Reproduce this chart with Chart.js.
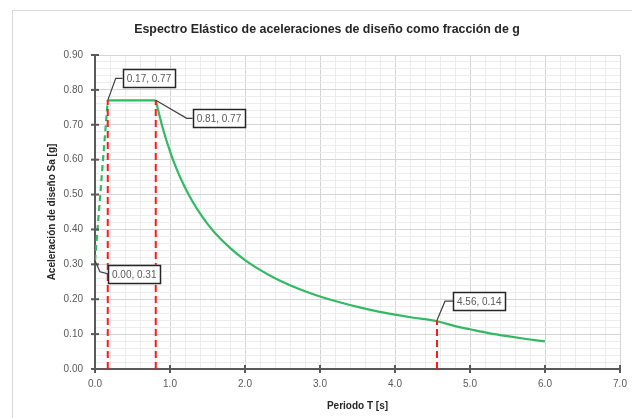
<!DOCTYPE html>
<html>
<head>
<meta charset="utf-8">
<script src="https://cdn.jsdelivr.net/npm/chart.js@4.4.0/dist/chart.umd.min.js"></script>
<style>
  html, body { margin: 0; padding: 0; background: #fff; }
  #wrap { width: 632px; height: 418px; position: relative; }
</style>
</head>
<body>
<div id="wrap"><canvas id="spectrum"></canvas></div>
<script>
// spectrum data
const rampT = [0.00, 0.17];
const rampSa = [0.31, 0.77];
const plateauT = [0.17, 0.81];
const plateauSa = [0.77, 0.77];
const decayT = [0.81, 0.9, 1.0, 1.1, 1.2, 1.3, 1.4, 1.5, 1.6, 1.8, 2.0, 2.2, 2.4, 2.6, 2.8, 3.0,
                3.25, 3.5, 3.75, 4.0, 4.25, 4.56, 4.8, 5.0, 5.25, 5.5, 5.75, 6.0];
const decaySa = [0.77, 0.693, 0.624, 0.567, 0.520, 0.480, 0.446, 0.416, 0.390, 0.347, 0.312, 0.284,
                 0.260, 0.240, 0.223, 0.208, 0.192, 0.178, 0.166, 0.156, 0.147, 0.137, 0.123, 0.114,
                 0.103, 0.094, 0.086, 0.079];
const calloutT = [0.00, 0.17, 0.81, 4.56];
const calloutSa = [0.31, 0.77, 0.77, 0.14];
const calloutText = ['0.00, 0.31', '0.17, 0.77', '0.81, 0.77', '4.56, 0.14'];
const xTickLabels = ['0.0', '1.0', '2.0', '3.0', '4.0', '5.0', '6.0', '7.0'];
const yTickLabels = ['0.00', '0.10', '0.20', '0.30', '0.40', '0.50', '0.60', '0.70', '0.80', '0.90'];

const AXIS = '#595959';
const FONT = "'Liberation Sans', Arial, sans-serif";

function pts(xs, ys) {
    return xs.map((x, i) => ({ x: x, y: ys[i] }));
}

function isMajorX(v) { return Math.abs(v - Math.round(v)) < 1e-6; }
function isMajorY(v) { return Math.abs(v * 10 - Math.round(v * 10)) < 1e-6; }

// red dashed verticals for the last three callouts
const guideSets = [1, 2, 3].map(i => ({
    data: [{ x: calloutT[i], y: 0 }, { x: calloutT[i], y: calloutSa[i] }],
    borderColor: '#ff1a1a',
    borderWidth: 2,
    borderDash: [7, 4],
    pointRadius: 0,
    showLine: true
}));

// leader elbow / box offsets in px from the point
const calloutLayout = [
    { ex: 5, ey: 11, bx: 13, by: 13 },
    { ex: 8, ey: -22, bx: 15, by: -22 },
    { ex: 31, ey: 18, bx: 37, by: 18 },
    { ex: 8, ey: -19, bx: 16, by: -19 }
];

const decorPlugin = {
    id: 'decor',
    beforeDraw(chart) {
        const c = chart.ctx;
        c.save();
        c.fillStyle = '#fff';
        c.fillRect(0, 0, chart.width, chart.height);
        c.strokeStyle = '#d9d9d9';
        c.lineWidth = 1;
        c.strokeRect(12.5, 10.5, chart.width + 20, chart.height + 20);
        c.restore();
    },
    afterDraw(chart) {
        const c = chart.ctx;
        const xs = chart.scales.x, ys = chart.scales.y;
        const area = chart.chartArea;
        c.save();

        // major tick marks crossing the axes
        c.strokeStyle = AXIS;
        c.lineWidth = 2;
        xTickLabels.forEach((_, i) => {
            const px = xs.getPixelForValue(i);
            c.beginPath(); c.moveTo(px, area.bottom - 4); c.lineTo(px, area.bottom + 4); c.stroke();
        });
        yTickLabels.forEach((_, i) => {
            const py = ys.getPixelForValue(i / 10);
            c.beginPath(); c.moveTo(area.left - 4, py); c.lineTo(area.left + 4, py); c.stroke();
        });

        // titles
        c.fillStyle = '#262626';
        c.textAlign = 'center';
        c.textBaseline = 'middle';
        c.font = 'bold 12.4px ' + FONT;
        c.fillText('Espectro Elástico de aceleraciones de diseño como fracción de g', 327, 30);
        c.font = 'bold 10px ' + FONT;
        c.fillText('Periodo T [s]', (area.left + area.right) / 2, 406);
        c.translate(52, (area.top + area.bottom) / 2);
        c.rotate(-Math.PI / 2);
        c.fillText('Aceleración de diseño Sa [g]', 0, 0);
        c.setTransform(1, 0, 0, 1, 0, 0);

        // callouts
        c.font = '10px ' + FONT;
        c.textAlign = 'left';
        calloutT.forEach((t, i) => {
            const px = xs.getPixelForValue(t);
            const py = ys.getPixelForValue(calloutSa[i]);
            const L = calloutLayout[i];
            const w = c.measureText(calloutText[i]).width + 8;
            const h = 18;
            const bx = px + L.bx, by = py + L.by;
            c.strokeStyle = '#404040';
            c.lineWidth = 1.2;
            c.beginPath();
            c.moveTo(px, py);
            c.lineTo(px + L.ex, py + L.ey);
            c.lineTo(bx, by);
            c.stroke();
            c.fillStyle = '#fff';
            c.fillRect(bx, by - h / 2, w, h);
            c.lineWidth = 1.5;
            c.strokeStyle = '#262626';
            c.strokeRect(Math.round(bx) + 0.5, Math.round(by - h / 2) + 0.5, Math.round(w), h);
            c.fillStyle = '#595959';
            c.fillText(calloutText[i], bx + 4, by + 1);
        });
        c.restore();
    }
};

new Chart(document.getElementById('spectrum'), {
    type: 'scatter',
    data: {
        datasets: [
            ...guideSets,
            {
                data: pts(rampT, rampSa),
                borderColor: '#33b864',
                borderWidth: 2.2,
                borderDash: [6, 4],
                pointRadius: 0,
                showLine: true
            },
            {
                data: pts(plateauT, plateauSa),
                borderColor: '#33b864',
                borderWidth: 2.2,
                pointRadius: 0,
                showLine: true
            },
            {
                data: pts(decayT, decaySa),
                borderColor: '#33b864',
                borderWidth: 2.2,
                pointRadius: 0,
                showLine: true,
                cubicInterpolationMode: 'monotone'
            }
        ]
    },
    options: {
        responsive: true,
        maintainAspectRatio: false,
        animation: false,
        layout: { padding: { left: 0, right: 12, top: 55, bottom: 0 } },
        plugins: {
            legend: { display: false },
            tooltip: { enabled: false }
        },
        scales: {
            x: {
                type: 'linear',
                min: 0,
                max: 7,
                afterFit: s => { s.height = 49; s.paddingLeft = 0; s.paddingRight = 0; },
                border: { color: AXIS, width: 2 },
                grid: {
                    drawTicks: false,
                    color: ctx => isMajorX(ctx.tick.value) ? '#d4d4d4' : '#ececec',
                    lineWidth: 1
                },
                ticks: {
                    stepSize: 0.2,
                    autoSkip: false,
                    maxRotation: 0,
                    padding: 9,
                    color: AXIS,
                    font: { family: FONT, size: 10 },
                    callback: v => isMajorX(v) ? xTickLabels[Math.round(v)] : ''
                }
            },
            y: {
                type: 'linear',
                min: 0,
                max: 0.9,
                afterFit: s => { s.width = 95; s.paddingTop = 0; s.paddingBottom = 0; },
                border: { color: AXIS, width: 2 },
                grid: {
                    drawTicks: false,
                    color: ctx => isMajorY(ctx.tick.value) ? '#d4d4d4' : '#ececec',
                    lineWidth: 1
                },
                ticks: {
                    stepSize: 0.02,
                    autoSkip: false,
                    padding: 12,
                    color: AXIS,
                    font: { family: FONT, size: 10 },
                    callback: v => isMajorY(v) ? yTickLabels[Math.round(v * 10)] : ''
                }
            }
        }
    },
    plugins: [decorPlugin]
});
</script>
</body>
</html>
